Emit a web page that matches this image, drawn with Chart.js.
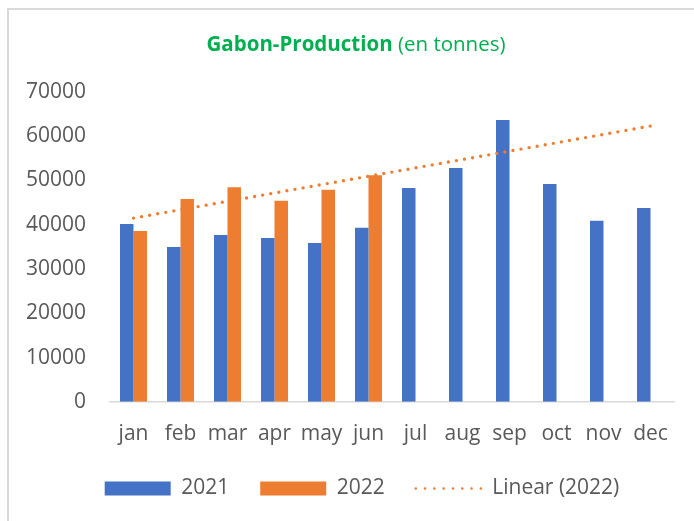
<!DOCTYPE html>
<html>
<head>
<meta charset="utf-8">
<script src="https://cdn.jsdelivr.net/npm/chart.js@4/dist/chart.umd.min.js"></script>
<style>
  html, body { margin: 0; padding: 0; background: #ffffff; overflow: hidden; width: 694px; height: 521px; }
  #frame { position: absolute; left: 7px; top: 8px; width: 800px; height: 800px;
           border-left: 2px solid #d9d9d9; border-top: 2px solid #d9d9d9; }
  #wrap { position: absolute; left: 9px; top: 10px; width: 706px; height: 511px; }
</style>
</head>
<body>
<div id="frame"></div>
<div id="wrap"><canvas id="c" width="706" height="511"></canvas></div>
<script>
// ---- data ----
const months = ['jan','feb','mar','apr','may','jun','jul','aug','sep','oct','nov','dec'];
const prod2021 = [40200, 35000, 37700, 37000, 35900, 39300, 48300, 52800, 63700, 49200, 40900, 43800];
const prod2022 = [38600, 45800, 48500, 45400, 47900, 51200, null, null, null, null, null, null];
const seriesLabels = ['2021', '2022', 'Linear (2022)'];
const titleBold = 'Gabon-Production';
const titleRest = ' (en tonnes)';

// Linear trend (least squares) of the 2022 series, as Excel's "Linear (2022)"
const pts = prod2022.map((v, i) => [i + 1, v]).filter(p => p[1] !== null);
const mx = pts.reduce((s, p) => s + p[0], 0) / pts.length;
const my = pts.reduce((s, p) => s + p[1], 0) / pts.length;
const slope = pts.reduce((s, p) => s + (p[0] - mx) * (p[1] - my), 0) /
              pts.reduce((s, p) => s + (p[0] - mx) * (p[0] - mx), 0);
const trend2022 = months.map((m, i) => my + slope * (i + 1 - mx));

const BLUE = '#4472C4', ORANGE = '#ED7D31', TXT = '#595959', GREEN = '#00B050';
const FONT = "'Open Sans', 'Liberation Sans', sans-serif";

const titlePlugin = {
  id: 'mixedTitle',
  afterLayout(chart) {
    // centre the legend on the whole chart frame
    if (chart.legend) { chart.legend.left = 0; chart.legend.right = chart.width; }
  },
  afterDraw(chart) {
    const ctx = chart.ctx;
    ctx.save();
    const fb = "bold 20.5px " + FONT, fr = "20.5px " + FONT;
    ctx.font = fb; const wb = ctx.measureText(titleBold).width;
    ctx.font = fr; const wr = ctx.measureText(titleRest).width;
    const cx = 347, cy = 35;
    let x = cx - (wb + wr) / 2;
    ctx.fillStyle = GREEN;
    ctx.textBaseline = 'middle';
    ctx.textAlign = 'left';
    ctx.font = fb; ctx.fillText(titleBold, x, cy);
    ctx.font = fr; ctx.fillText(titleRest, x + wb, cy);
    ctx.restore();
  }
};

new Chart(document.getElementById('c'), {
  data: {
    labels: months,
    datasets: [
      { type: 'bar', label: seriesLabels[0], data: prod2021, backgroundColor: BLUE, order: 1,
        categoryPercentage: 0.574, barPercentage: 1.0 },
      { type: 'bar', label: seriesLabels[1], data: prod2022, backgroundColor: ORANGE, order: 1,
        categoryPercentage: 0.574, barPercentage: 1.0 },
      { type: 'line', label: seriesLabels[2], data: trend2022, borderColor: ORANGE,
        borderWidth: 3.4, borderDash: [0, 8.2], borderCapStyle: 'round', pointRadius: 0,
        fill: false, tension: 0, order: 0 }
    ]
  },
  options: {
    responsive: false,
    animation: false,
    devicePixelRatio: 1,
    layout: { padding: { top: 82, left: 0, right: 41, bottom: 12 } },
    plugins: {
      title: { display: false },
      tooltip: { enabled: false },
      legend: {
        position: 'bottom',
        labels: {
          usePointStyle: true,
          pointStyleWidth: 66,
          boxHeight: 14,
          padding: 31,
          color: TXT,
          font: { family: FONT, size: 21 },
          generateLabels: chart => chart.data.datasets.map((ds, i) => {
            const isLine = ds.type === 'line';
            return {
              text: ds.label,
              datasetIndex: i,
              fillStyle: isLine ? 'rgba(0,0,0,0)' : ds.backgroundColor,
              strokeStyle: isLine ? ds.borderColor : ds.backgroundColor,
              lineWidth: isLine ? 2.6 : 0,
              lineDash: isLine ? [0, 9.3] : [],
              lineCap: 'round',
              pointStyle: isLine ? 'line' : 'rect',
              fontColor: TXT,
              hidden: false
            };
          })
        }
      }
    },
    scales: {
      x: {
        grid: { display: false, drawTicks: false },
        border: { display: true, color: '#d9d9d9', width: 1.5 },
        ticks: { color: TXT, font: { family: FONT, size: 21 }, padding: 20, maxRotation: 0, autoSkip: false },
        afterFit: s => { s.height = s.height - 20; }
      },
      y: {
        min: 0, max: 70000,
        grid: { display: false, drawTicks: false },
        border: { display: false },
        ticks: { stepSize: 10000, color: TXT, font: { family: FONT, size: 21 }, padding: 24,
                 callback: v => String(v) },
        afterFit: s => { s.width = 101; }
      }
    }
  },
  plugins: [titlePlugin]
});
</script>
</body>
</html>
